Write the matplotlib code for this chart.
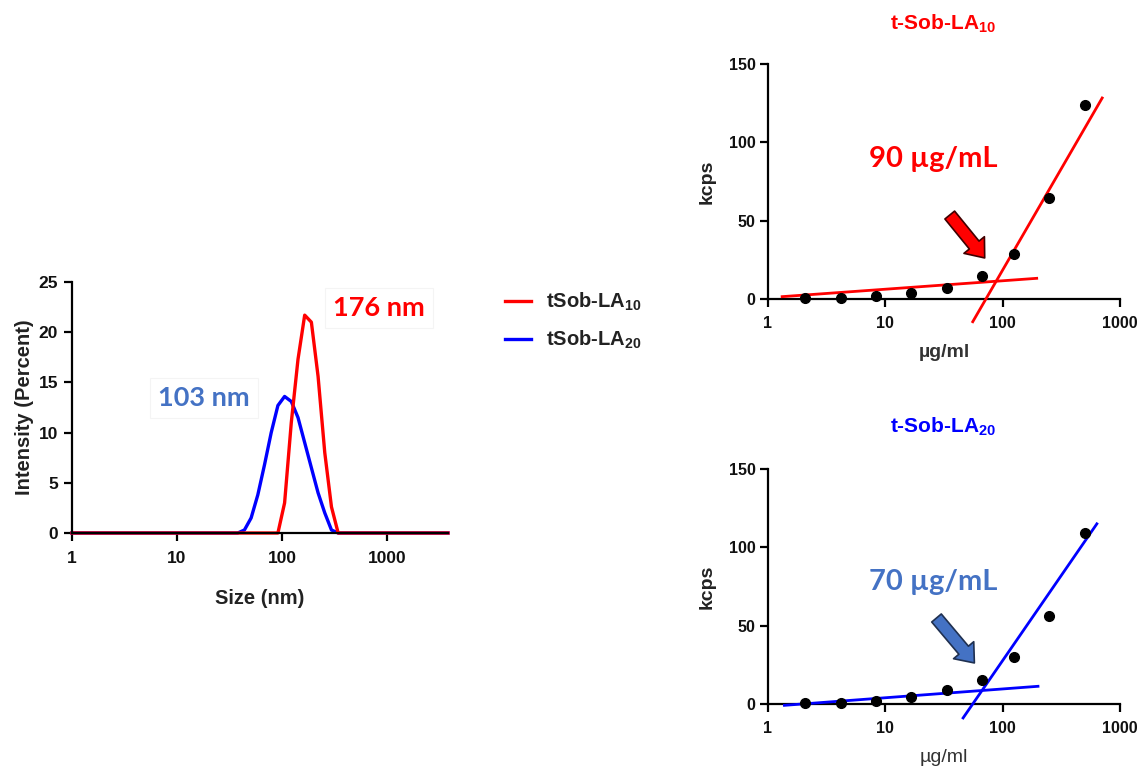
import matplotlib
matplotlib.use("Agg")
import matplotlib.pyplot as plt
from matplotlib.ticker import FixedLocator, FixedFormatter, NullLocator

plt.rcParams['font.family'] = ['Liberation Sans', 'DejaVu Sans']
plt.rcParams['mathtext.default'] = 'regular'

# ---- DLS size distribution data ----
red_size = [1, 91.28, 105.7, 122.4, 141.8, 164.2, 190.1, 220.2, 255.0, 295.3, 342.0, 3800]
red_int = [0, 0, 3.0, 11.0, 17.3, 21.7, 21.0, 15.6, 8.0, 2.6, 0, 0]
blue_size = [1, 37.84, 43.82, 50.75, 58.77, 68.06, 78.82, 91.28, 105.7, 122.4, 141.8,
             164.2, 190.1, 220.2, 255.0, 295.3, 342.0, 3800]
blue_int = [0, 0, 0.3, 1.5, 3.8, 6.8, 10.0, 12.7, 13.6, 13.1, 11.5,
            9.0, 6.5, 4.0, 2.0, 0.3, 0, 0]
size_ticks = [1, 10, 100, 1000]
size_ticklabels = ['1', '10', '100', '1000']
int_ticks = [0, 5, 10, 15, 20, 25]

# ---- CAC data ----
conc = [2.08, 4.17, 8.33, 16.7, 33.3, 66.7, 125, 250, 500]
kcps10 = [0.4, 0.9, 2.1, 4.0, 6.8, 14.7, 28.6, 64.6, 124]
kcps20 = [0.6, 0.6, 1.7, 4.2, 9.1, 15.5, 30, 55.9, 109]
fit10_low_x, fit10_low_y = [1.32, 195], [1.5, 13.2]
fit10_high_x, fit10_high_y = [55.6, 705], [-14.5, 128.3]
fit20_low_x, fit20_low_y = [1.38, 200], [-0.85, 11.3]
fit20_high_x, fit20_high_y = [46, 635], [-8.9, 115]
conc_ticks = [1, 10, 100, 1000]
conc_ticklabels = ['1', '10', '100', '1000']
kcps_ticks = [0, 50, 100, 150]

RED = '#FF0000'
BLUE = '#0000FF'
SBLUE = '#4472C4'

W, H = 1145, 772
fig = plt.figure(figsize=(W / 100, H / 100), dpi=100)


def frac_box(x0, y0, x1, y1):
    return [x0 / W, 1 - y1 / H, (x1 - x0) / W, (y1 - y0) / H]


def style(ax, labelsize, xpad, ypad):
    for s in ['top', 'right']:
        ax.spines[s].set_visible(False)
    for s in ['left', 'bottom']:
        ax.spines[s].set_linewidth(1.6)
        ax.spines[s].set_color('black')
    ax.tick_params(direction='out', length=6, width=1.6, labelsize=labelsize)
    ax.tick_params(axis='x', pad=xpad)
    ax.tick_params(axis='y', pad=ypad)
    for lab in ax.get_xticklabels() + ax.get_yticklabels():
        lab.set_fontweight('bold')
        lab.set_color('#111111')
    ax.xaxis.set_minor_locator(NullLocator())


# ---- Left: size distribution ----
ax = fig.add_axes(frac_box(72, 282, 448, 533))
ax.set_xscale('log')
ax.plot(blue_size, blue_int, color=BLUE, lw=2.4, clip_on=False, label='tSob-LA$_{20}$')
ax.plot(red_size, red_int, color=RED, lw=2.4, clip_on=False, label='tSob-LA$_{10}$')
ax.set_xlim(1, 3800)
ax.set_ylim(0, 25)
ax.xaxis.set_major_locator(FixedLocator(size_ticks))
ax.xaxis.set_major_formatter(FixedFormatter(size_ticklabels))
ax.set_yticks(int_ticks)
style(ax, 12.5, 7, 4)
ax.set_ylabel('Intensity (Percent)', fontsize=14.5, fontweight='bold', color='#222222')
ax.yaxis.set_label_coords(-0.100, 0.5)
ax.set_xlabel('Size (nm)', fontsize=14.5, fontweight='bold', color='#222222')
ax.xaxis.set_label_coords(0.5, -0.222)
ax.text(379 / W, 1 - 308 / H, '176 nm', transform=fig.transFigure, color=RED,
        fontsize=19.5, fontweight='bold', family='Lato', ha='center', va='center',
        bbox=dict(boxstyle='square,pad=0.3', fc='white', ec='#f4f4f4', lw=0.8))
ax.text(204 / W, 1 - 398 / H, '103 nm', transform=fig.transFigure, color=SBLUE,
        fontsize=19.5, fontweight='bold', family='Lato', ha='center', va='center',
        bbox=dict(boxstyle='square,pad=0.3', fc='white', ec='#f4f4f4', lw=0.8))

handles, labels = ax.get_legend_handles_labels()
leg = fig.legend(handles[::-1], labels[::-1], loc='center left',
                 bbox_to_anchor=(505 / W, 1 - 321 / H), frameon=False,
                 borderpad=0, borderaxespad=0, handlelength=1.3, handletextpad=0.75,
                 labelspacing=0.75, prop=dict(size=14.5, weight='bold'))
for t in leg.get_texts():
    t.set_color('#222222')


def cac_panel(box, kcps, lowx, lowy, highx, highy, color, xlabel_weight,
              title, title_y, label_txt, label_color, label_y,
              arrow_tail, arrow_tip, arrow_fc, arrow_ec):
    a = fig.add_axes(frac_box(*box))
    a.set_xscale('log')
    a.plot(lowx, lowy, color=color, lw=2.0, clip_on=False, zorder=3)
    a.plot(highx, highy, color=color, lw=2.0, clip_on=False, zorder=3)
    a.plot(conc, kcps, 'o', color='black', ms=7, clip_on=False, zorder=4)
    a.set_xlim(1, 1000)
    a.set_ylim(0, 150)
    a.xaxis.set_major_locator(FixedLocator(conc_ticks))
    a.xaxis.set_major_formatter(FixedFormatter(conc_ticklabels))
    a.set_yticks(kcps_ticks)
    style(a, 11.5, 6, 3)
    a.set_ylabel('kcps', fontsize=14, fontweight='bold', color='#222222')
    a.yaxis.set_label_coords(-0.150, 0.5)
    a.set_xlabel('\u00b5g/ml', fontsize=14, fontweight=xlabel_weight, color='#333333')
    a.xaxis.set_label_coords(0.5, -0.19)
    fig.text(943 / W, 1 - title_y / H, title, color=color, fontsize=15,
             fontweight='bold', ha='center', va='center')
    fig.text(933 / W, 1 - label_y / H, label_txt, color=label_color, fontsize=21,
             fontweight='bold', family='Lato', ha='center', va='center')
    a.annotate('', xy=arrow_tip, xytext=arrow_tail,
               arrowprops=dict(arrowstyle='simple,head_length=0.6,head_width=0.95,tail_width=0.45',
                               mutation_scale=20, fc=arrow_fc, ec=arrow_ec, lw=1.2,
                               shrinkA=0, shrinkB=0))
    return a


cac_panel((768, 64, 1120, 299), kcps10, fit10_low_x, fit10_low_y, fit10_high_x, fit10_high_y,
          RED, 'bold', 't-Sob-LA$_{10}$', 24, '90 \u00b5g/mL', RED, 159,
          (35.4, 53.6), (70.3, 26.2), RED, '#400000')
cac_panel((768, 469, 1120, 704), kcps20, fit20_low_x, fit20_low_y, fit20_high_x, fit20_high_y,
          BLUE, 'normal', 't-Sob-LA$_{20}$', 427, '70 \u00b5g/mL', SBLUE, 582,
          (27.3, 54.9), (57.4, 26.2), SBLUE, '#1F3050')

fig.savefig('out.png', dpi=100)
